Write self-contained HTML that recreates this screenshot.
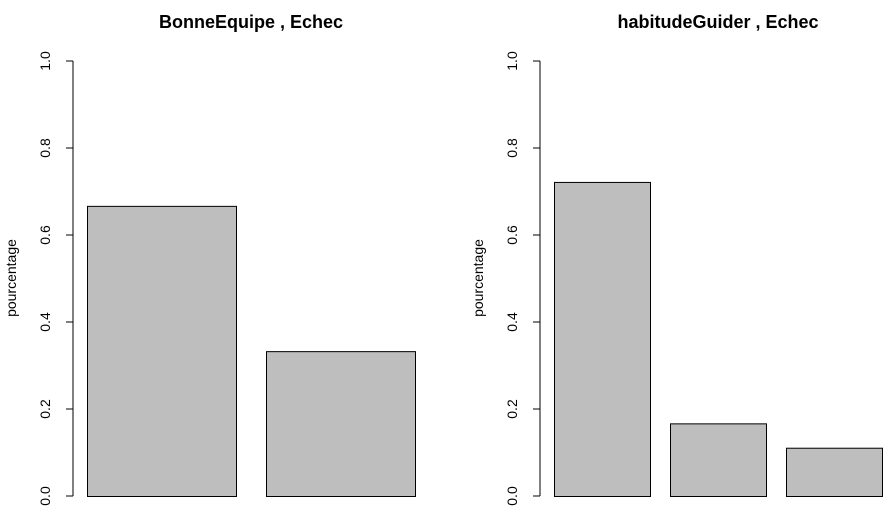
<!DOCTYPE html>
<html><head><meta charset="utf-8"><style>
body{margin:0;background:#fff}
svg{display:block;font-family:"Liberation Sans",Arial,sans-serif}
</style></head><body>
<svg id="c" width="895" height="511" xmlns="http://www.w3.org/2000/svg"></svg>
<script>
const panelTitles=["BonneEquipe , Echec","habitudeGuider , Echec"];
const leftValues=[0.667,0.333];
const rightValues=[0.722,0.167,0.111];
const tickLabels=["0.0","0.2","0.4","0.6","0.8","1.0"];
const tickValues=[0,0.2,0.4,0.6,0.8,1.0];
const yLabel="pourcentage";

const svg=document.getElementById('c');
const NS="http://www.w3.org/2000/svg";
function mk(t,a,p){const e=document.createElementNS(NS,t);for(const k in a)e.setAttribute(k,a[k]);(p||svg).appendChild(e);return e;}
const y0=496,y1=61;
function yScale(v){return y0-(y0-y1)*v;}

const panels=[
 {values:leftValues,axisX:73,barStart:87,barW:149,gap:30,titleX:251,ylabX:16,tickX:50},
 {values:rightValues,axisX:540,barStart:554,barW:96,gap:20,titleX:718,ylabX:483,tickX:517}
];
panels.forEach((p,pi)=>{
 const g=mk('g',{});
 
 
 const t=mk('text',{x:p.titleX,y:28,'text-anchor':'middle','font-size':18,'font-weight':'bold'},g);
 t.textContent=panelTitles[pi];
 
 
 const yl=mk('text',{x:p.ylabX,y:278,'text-anchor':'middle','font-size':14,transform:`rotate(-90 ${p.ylabX} 278)`},g);
 yl.textContent=yLabel;
 
 
 const ax=mk('line',{x1:p.axisX,x2:p.axisX,y1:yScale(0),y2:yScale(1),stroke:'#000','stroke-width':1},g);
 
 
 tickValues.forEach((v,i)=>{
  const tk=mk('line',{x1:p.axisX-7,x2:p.axisX,y1:yScale(v),y2:yScale(v),stroke:'#000'},g);
  
  
  const tl=mk('text',{x:p.tickX,y:yScale(v),'text-anchor':'middle','font-size':14,transform:`rotate(-90 ${p.tickX} ${yScale(v)})`},g);
  tl.textContent=tickLabels[i];
  
  
 });
 p.values.forEach((v,i)=>{
  const x=p.barStart+i*(p.barW+p.gap);
  const b=mk('rect',{x:x+0.5,y:yScale(v)+0.5,width:p.barW,height:yScale(0)-yScale(v),fill:'#bebebe',stroke:'#000','stroke-width':1},g);
  
  
 });
});
</script>
</body></html>
